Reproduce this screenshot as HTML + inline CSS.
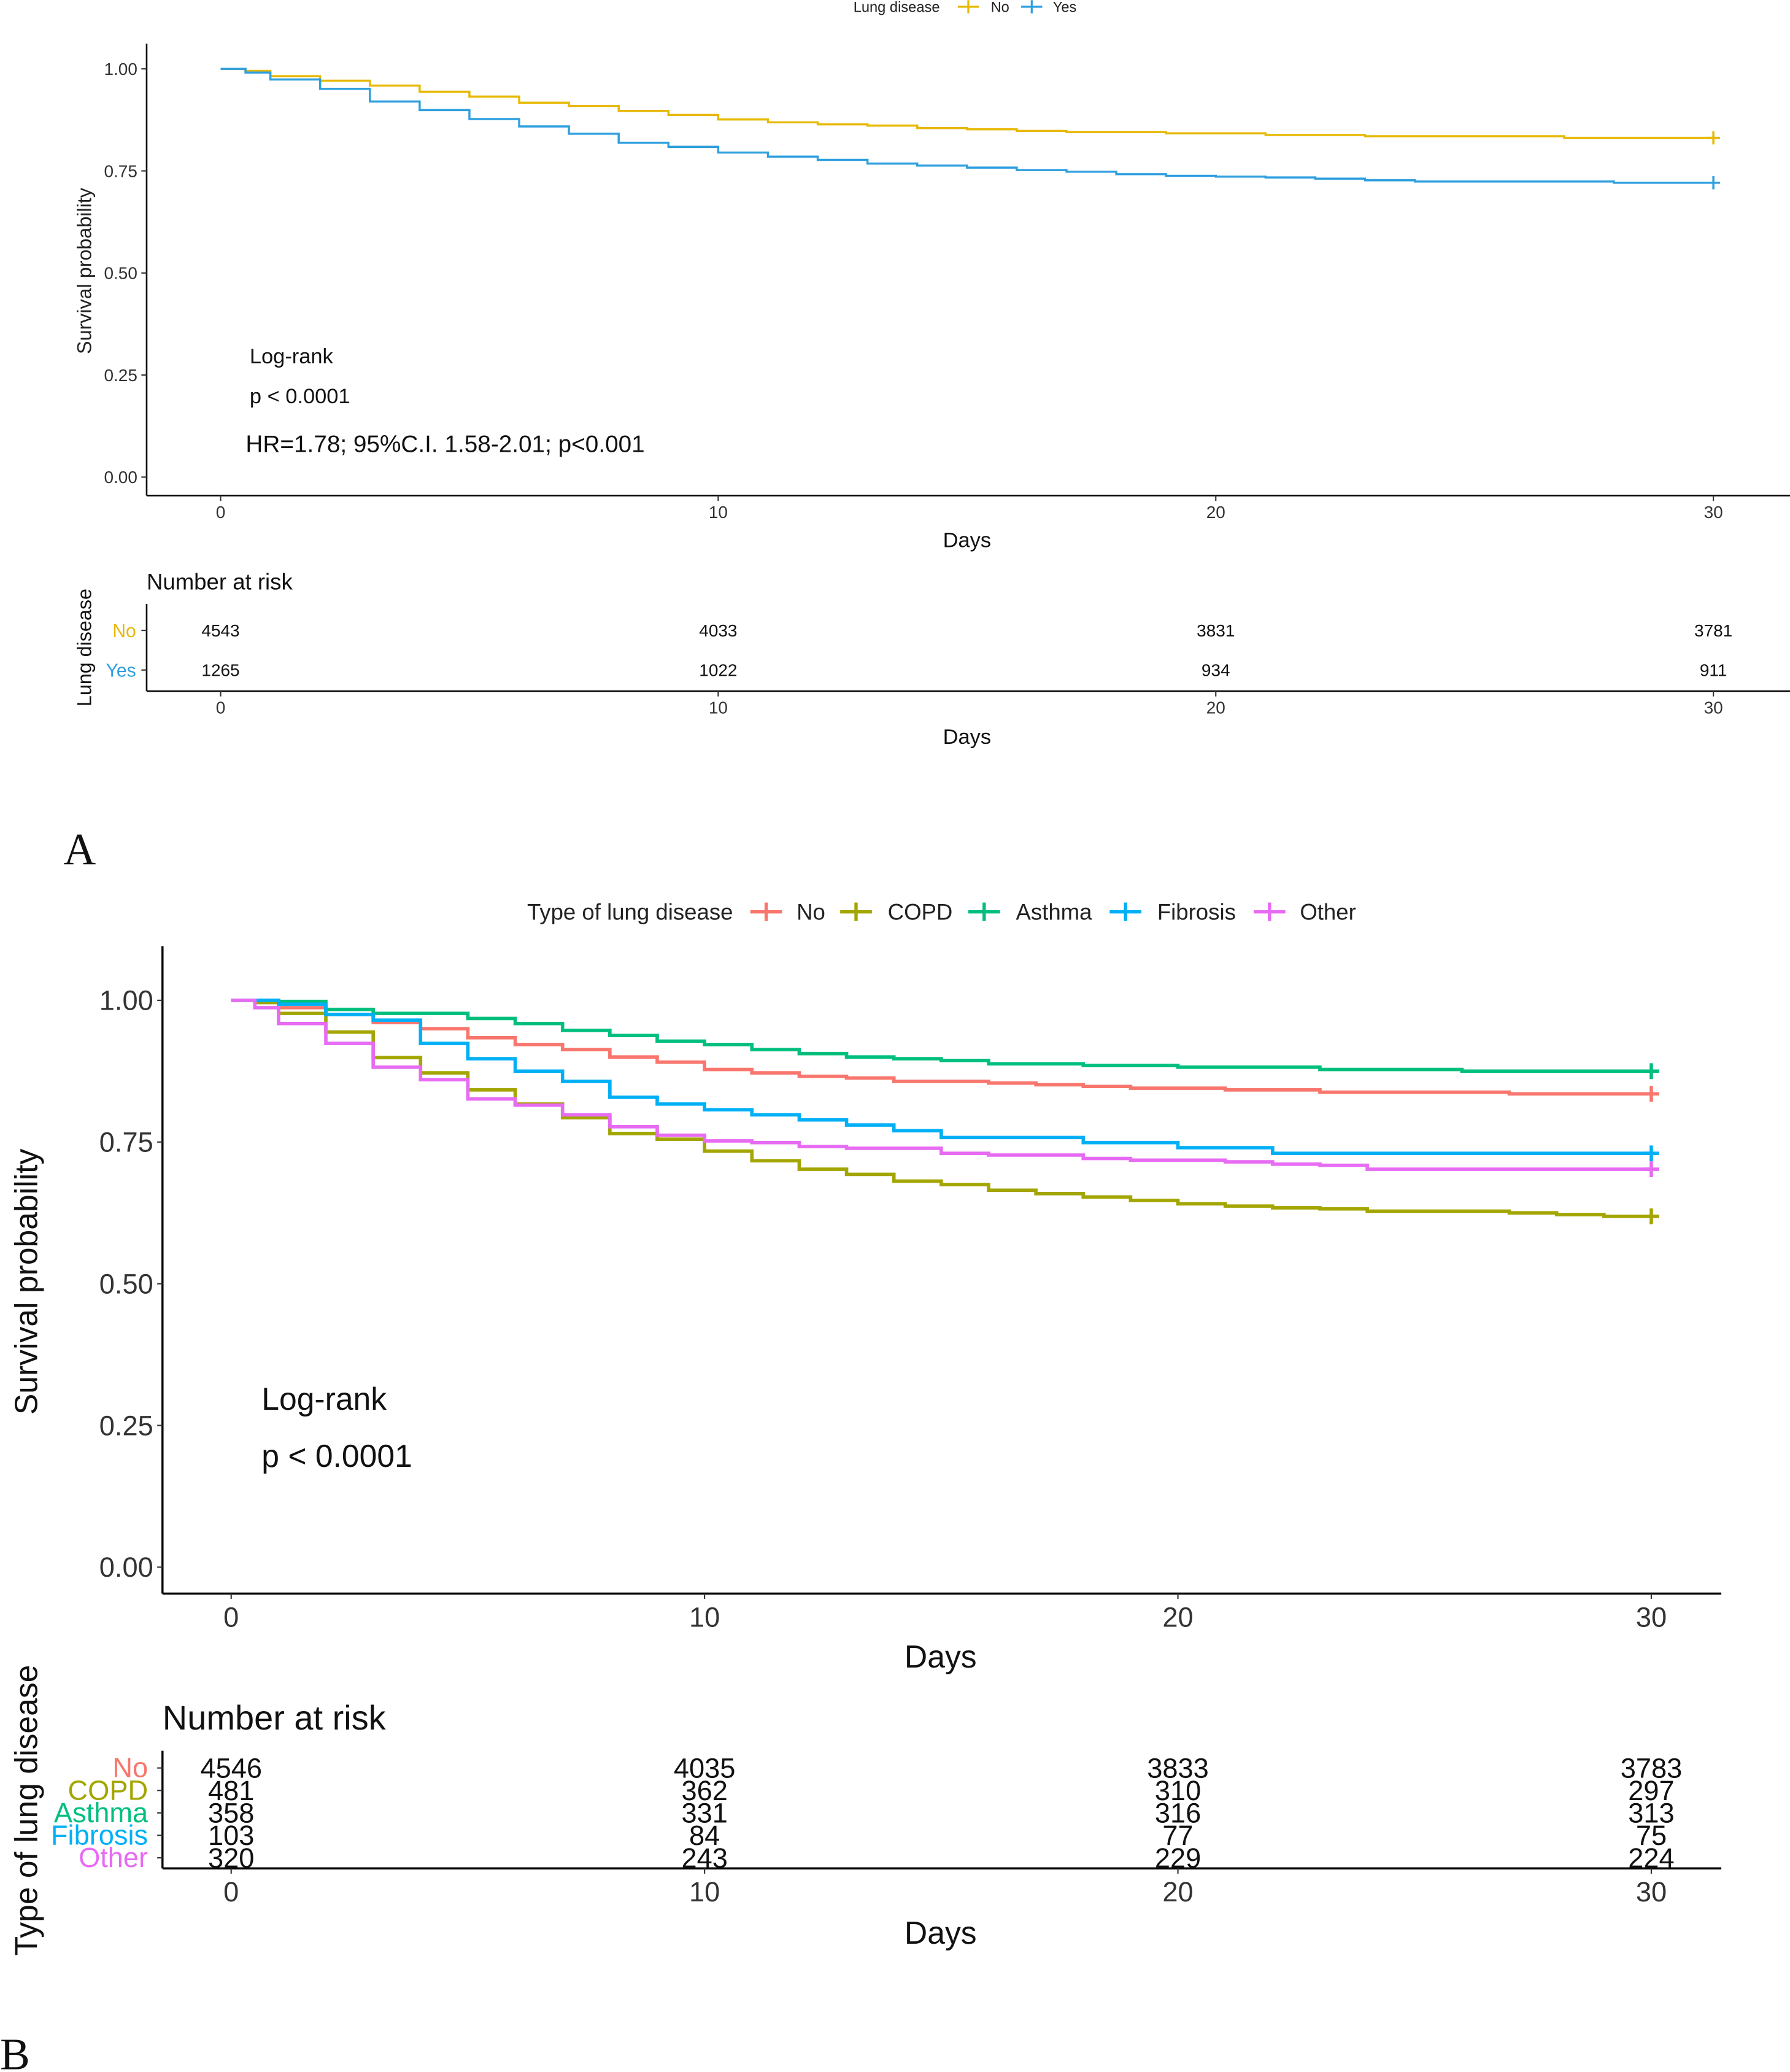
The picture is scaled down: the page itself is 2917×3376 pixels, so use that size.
<!DOCTYPE html>
<html><head><meta charset="utf-8"><style>
html,body{margin:0;padding:0;background:#fff;}
svg{display:block;font-family:"Liberation Sans",sans-serif;}
</style></head><body>
<svg id="fig" width="2917" height="3376" viewBox="0 0 1355 1568" xmlns="http://www.w3.org/2000/svg">
<rect width="1355" height="1568" fill="#fff"/>
<!-- Panel A static -->
<g font-size="11" fill="#222">
<text x="646" y="9">Lung disease</text>
<line x1="725" y1="5" x2="741" y2="5" stroke="#E7B800" stroke-width="1.5"/><line x1="733" y1="0" x2="733" y2="10" stroke="#E7B800" stroke-width="1.5"/>
<text x="750" y="9">No</text>
<line x1="773" y1="5" x2="789" y2="5" stroke="#2E9FDF" stroke-width="1.5"/><line x1="781" y1="0" x2="781" y2="10" stroke="#2E9FDF" stroke-width="1.5"/>
<text x="797" y="9">Yes</text>
</g>
<text transform="translate(69,205) rotate(-90)" text-anchor="middle" font-size="15" fill="#222">Survival probability</text>
<text x="732" y="414" text-anchor="middle" font-size="16" fill="#111">Days</text>
<g font-size="16" fill="#111">
<text x="189" y="275">Log-rank</text>
<text x="189" y="305">p &lt; 0.0001</text>
<text x="186" y="342" font-size="18">HR=1.78; 95%C.I. 1.58-2.01; p&lt;0.001</text>
</g>
<g id="a"></g>
<g fill="#111">
<text x="111" y="446" font-size="17">Number at risk</text>
<text transform="translate(69,490) rotate(-90)" text-anchor="middle" font-size="15">Lung disease</text>
<text x="103" y="482" text-anchor="end" font-size="14" fill="#E7B800">No</text>
<text x="103" y="512" text-anchor="end" font-size="14" fill="#2E9FDF">Yes</text>
<text x="732" y="563" text-anchor="middle" font-size="16">Days</text>
</g>
<g id="ra"></g>
<text x="48" y="654" font-family="Liberation Serif,serif" font-size="34" fill="#111">A</text>

<!-- Panel B static -->
<g font-size="17" fill="#222">
<text x="399" y="696">Type of lung disease</text>
<line x1="568" y1="690" x2="592" y2="690" stroke="#F8766D" stroke-width="2.5"/><line x1="580" y1="683" x2="580" y2="697" stroke="#F8766D" stroke-width="2.5"/>
<text x="603" y="696">No</text>
<line x1="636" y1="690" x2="660" y2="690" stroke="#A3A500" stroke-width="2.5"/><line x1="648" y1="683" x2="648" y2="697" stroke="#A3A500" stroke-width="2.5"/>
<text x="672" y="696">COPD</text>
<line x1="733" y1="690" x2="757" y2="690" stroke="#00BF7D" stroke-width="2.5"/><line x1="745" y1="683" x2="745" y2="697" stroke="#00BF7D" stroke-width="2.5"/>
<text x="769" y="696">Asthma</text>
<line x1="840" y1="690" x2="864" y2="690" stroke="#00B0F6" stroke-width="2.5"/><line x1="852" y1="683" x2="852" y2="697" stroke="#00B0F6" stroke-width="2.5"/>
<text x="876" y="696">Fibrosis</text>
<line x1="949" y1="690" x2="973" y2="690" stroke="#E76BF3" stroke-width="2.5"/><line x1="961" y1="683" x2="961" y2="697" stroke="#E76BF3" stroke-width="2.5"/>
<text x="984" y="696">Other</text>
</g>
<text transform="translate(28,970) rotate(-90)" text-anchor="middle" font-size="24" fill="#111">Survival probability</text>
<text x="712" y="1262" text-anchor="middle" font-size="24" fill="#111">Days</text>
<g font-size="24" fill="#111">
<text x="198" y="1067">Log-rank</text>
<text x="198" y="1110">p &lt; 0.0001</text>
</g>
<g id="b"></g>
<g fill="#111">
<text x="123" y="1309" font-size="26">Number at risk</text>
<text transform="translate(28,1370) rotate(-90)" text-anchor="middle" font-size="24">Type of lung disease</text>
<g font-size="21" text-anchor="end">
<text x="112" y="1345" fill="#F8766D">No</text>
<text x="112" y="1362" fill="#A3A500">COPD</text>
<text x="112" y="1379" fill="#00BF7D">Asthma</text>
<text x="112" y="1396" fill="#00B0F6">Fibrosis</text>
<text x="112" y="1413" fill="#E76BF3">Other</text>
</g>
<text x="712" y="1471" text-anchor="middle" font-size="24">Days</text>
</g>
<g id="rb"></g>
<text x="0" y="1566" font-family="Liberation Serif,serif" font-size="34" fill="#111">B</text>
</svg>
<script>
// ---- Panel A data ----
const aNoTimes = [0,0.5,1,2,3,4,5,6,7,8,9,10,11,12,13,14,15,16,17,19,21,23,27];
const aNoSurv = [1,.995,.982,.971,.959,.944,.932,.917,.909,.897,.887,.876,.869,.864,.861,.855,.852,.848,.845,.842,.838,.835,.831];
const aYesTimes = [0,0.5,1,2,3,4,5,6,7,8,9,10,11,12,13,14,15,16,17,18,19,20,21,22,23,24,28];
const aYesSurv = [1,.991,.974,.951,.920,.899,.877,.859,.841,.819,.809,.795,.785,.777,.768,.763,.758,.752,.748,.742,.738,.736,.734,.731,.727,.724,.721];
const aRiskTimes = [0,10,20,30];
const aRiskNo = [4543,4033,3831,3781];
const aRiskYes = [1265,1022,934,911];
const yTickLabels = ["0.00","0.25","0.50","0.75","1.00"];
const yTickValues = [0,0.25,0.5,0.75,1];
const xTickValues = [0,10,20,30];
// ---- Panel B data ----
const bNoTimes = [0,1,2,3,4,5,6,7,8,9,10,11,12,13,14,16,17,18,19,21,23,27];
const bNoSurv = [1,.987,.975,.961,.950,.934,.922,.913,.900,.891,.878,.872,.866,.863,.857,.854,.851,.848,.845,.842,.838,.835];
const bCopdTimes = [0,0.5,1,2,3,4,5,6,7,8,9,10,11,12,13,14,15,16,17,18,19,20,21,22,23,24,27,28,29];
const bCopdSurv = [1,.996,.977,.944,.899,.872,.842,.817,.793,.765,.755,.734,.717,.702,.693,.681,.675,.665,.659,.653,.647,.641,.637,.634,.632,.628,.625,.622,.619];
const bAsthmaTimes = [0,1,2,3,5,6,7,8,9,10,11,12,13,14,15,16,18,20,23,26];
const bAsthmaSurv = [1,.998,.984,.977,.968,.959,.947,.938,.928,.922,.913,.906,.9,.897,.894,.888,.885,.882,.878,.875];
const bFibTimes = [0,1,2,3,4,5,6,7,8,9,10,11,12,13,14,15,18,20,22];
const bFibSurv = [1,.993,.975,.965,.924,.897,.875,.857,.829,.817,.807,.798,.789,.780,.770,.758,.749,.740,.730];
const bOtherTimes = [0,0.5,1,2,3,4,5,6,7,8,9,10,11,12,13,15,16,18,19,21,22,23,24];
const bOtherSurv = [1,.987,.959,.924,.882,.860,.826,.815,.798,.777,.762,.752,.749,.742,.739,.730,.727,.721,.718,.715,.711,.709,.702];
const bRiskNo = [4546,4035,3833,3783];
const bRiskCopd = [481,362,310,297];
const bRiskAsthma = [358,331,316,313];
const bRiskFib = [103,84,77,75];
const bRiskOther = [320,243,229,224];

const NS="http://www.w3.org/2000/svg";
function mk(tag, attrs, parent){const e=document.createElementNS(NS,tag);for(const k in attrs)e.setAttribute(k,attrs[k]);parent.appendChild(e);return e;}

function panel(g, cfg){
  const sx=d=>cfg.x0+(cfg.x30-cfg.x0)*d/30;
  const sy=v=>cfg.y0+(cfg.y1-cfg.y0)*v;
  // axes
  let ax=mk('line',{x1:cfg.axL,y1:cfg.axTop,x2:cfg.axL,y2:cfg.axB,stroke:'#000','stroke-width':cfg.aw},g);
  
  
  let bx=mk('line',{x1:cfg.axL,y1:cfg.axB,x2:cfg.axR,y2:cfg.axB,stroke:'#000','stroke-width':cfg.aw},g);
  
  
  yTickValues.forEach((v,i)=>{
    mk('line',{x1:cfg.axL-4,y1:sy(v),x2:cfg.axL,y2:sy(v),stroke:'#333','stroke-width':1},g);
    const t=mk('text',{x:cfg.axL-7,y:sy(v)+cfg.fs*0.35,'text-anchor':'end','font-size':cfg.fs,fill:'#333'},g);
    t.textContent=yTickLabels[i];
    
    
  });
  xTickValues.forEach(d=>{
    mk('line',{x1:sx(d),y1:cfg.axB,x2:sx(d),y2:cfg.axB+4,stroke:'#333','stroke-width':1},g);
    const t=mk('text',{x:sx(d),y:cfg.axB+4+cfg.fs,'text-anchor':'middle','font-size':cfg.fs,fill:'#333'},g);
    t.textContent=d;
    
    
  });
  cfg.series.forEach(s=>{
    let d='M'+sx(s.t[0])+','+sy(s.v[0]);
    for(let i=1;i<s.t.length;i++){d+=' H'+sx(s.t[i])+' V'+sy(s.v[i]);}
    d+=' H'+sx(30);
    const p=mk('path',{d:d,fill:'none',stroke:s.c,'stroke-width':cfg.lw},g);
    
    
    const last=s.v[s.v.length-1];
    const m=mk('path',{d:`M${sx(30)-cfg.cs},${sy(last)} H${sx(30)+cfg.cs} M${sx(30)},${sy(last)-cfg.cs} V${sy(last)+cfg.cs}`,stroke:s.c,'stroke-width':cfg.lw},g);
    
    
  });
}
function riskTable(g,cfg){
  const sx=d=>cfg.x0+(cfg.x30-cfg.x0)*d/30;
  let ax=mk('line',{x1:cfg.axL,y1:cfg.axTop,x2:cfg.axL,y2:cfg.axB,stroke:'#000','stroke-width':cfg.aw},g);
  
  
  let bx=mk('line',{x1:cfg.axL,y1:cfg.axB,x2:cfg.axR,y2:cfg.axB,stroke:'#000','stroke-width':cfg.aw},g);
  
  
  xTickValues.forEach(d=>{
    mk('line',{x1:sx(d),y1:cfg.axB,x2:sx(d),y2:cfg.axB+4,stroke:'#333','stroke-width':1},g);
    const t=mk('text',{x:sx(d),y:cfg.axB+4+cfg.tfs,'text-anchor':'middle','font-size':cfg.tfs,fill:'#333'},g);
    t.textContent=d;
    
    
  });
  cfg.rows.forEach((row,r)=>{
    const y=cfg.rowY[r];
    mk('line',{x1:cfg.axL-4,y1:y,x2:cfg.axL,y2:y,stroke:'#333','stroke-width':1},g);
    aRiskTimes.forEach((d,i)=>{
      const t=mk('text',{x:sx(d),y:y+cfg.fs*0.35,'text-anchor':'middle','font-size':cfg.fs,fill:'#111'},g);
      t.textContent=row[i];
      
      
    });
  });
}
panel(document.getElementById('a'),{x0:167,x30:1297,y0:361,y1:52,axL:111,axTop:33,axB:375,axR:1355,aw:1.2,fs:13,lw:1.6,cs:5,
  series:[{n:'no',t:aNoTimes,v:aNoSurv,c:'#E7B800'},{n:'yes',t:aYesTimes,v:aYesSurv,c:'#2E9FDF'}]});
riskTable(document.getElementById('ra'),{x0:167,x30:1297,axL:111,axTop:457,axB:523,axR:1355,aw:1.2,fs:13,tfs:13,
  rows:[aRiskNo,aRiskYes],rowY:[477,507]});
panel(document.getElementById('b'),{x0:175,x30:1250,y0:1186,y1:757,axL:123,axTop:716,axB:1206,axR:1303,aw:1.6,fs:21,lw:2.6,cs:6,
  series:[{n:'no',t:bNoTimes,v:bNoSurv,c:'#F8766D'},{n:'copd',t:bCopdTimes,v:bCopdSurv,c:'#A3A500'},{n:'asthma',t:bAsthmaTimes,v:bAsthmaSurv,c:'#00BF7D'},{n:'fibrosis',t:bFibTimes,v:bFibSurv,c:'#00B0F6'},{n:'other',t:bOtherTimes,v:bOtherSurv,c:'#E76BF3'}]});
riskTable(document.getElementById('rb'),{x0:175,x30:1250,axL:123,axTop:1325,axB:1414,axR:1303,aw:1.6,fs:21,tfs:21,
  rows:[bRiskNo,bRiskCopd,bRiskAsthma,bRiskFib,bRiskOther],rowY:[1338,1355,1372,1389,1406]});
</script>
</body></html>
